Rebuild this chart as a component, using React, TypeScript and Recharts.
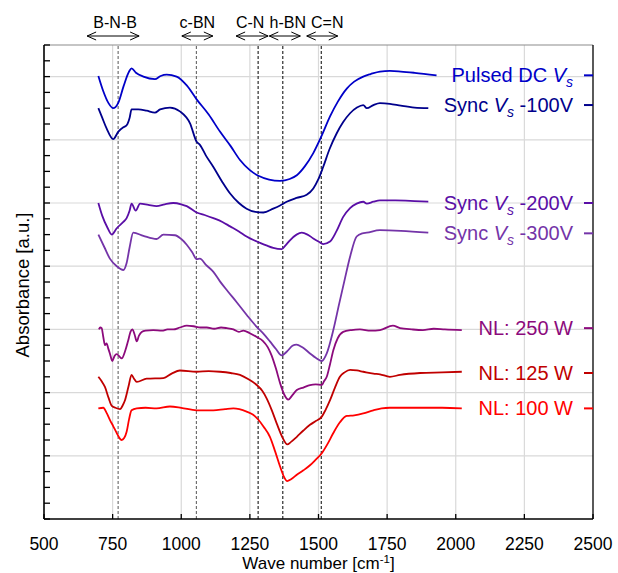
import { LineChart, Line, XAxis, YAxis, CartesianGrid, ReferenceLine } from 'recharts';

type Pt = [number, number];

// axis ticks
const xTicks = [500, 750, 1000, 1250, 1500, 1750, 2000, 2250, 2500];
const yTicks = [
  0, 0.25, 0.5, 0.75, 1, 1.25, 1.5, 1.75, 2, 2.25, 2.5, 2.75, 3, 3.25, 3.5, 3.75,
  4, 4.25, 4.5, 4.75, 5, 5.25, 5.5, 5.75, 6, 6.25, 6.5, 6.75, 7, 7.25, 7.5,
];
const yGrid = [1, 2, 3, 4, 5, 6, 7];

// spectra (wave number, offset absorbance)
const pulsedDC: Pt[] = [
  [698, 7.01], [715, 6.78], [735, 6.58], [752, 6.5], [770, 6.58], [790, 6.85], [810, 7.08],
  [819, 7.13], [835, 7.06], [862, 7.0], [904, 6.96], [925, 7.01], [947, 7.03], [983, 7.0],
  [1020, 6.86], [1056, 6.64], [1100, 6.4], [1141, 6.13], [1180, 5.9], [1214, 5.68],
  [1250, 5.52], [1281, 5.43], [1320, 5.37], [1360, 5.35], [1395, 5.38], [1421, 5.44],
  [1450, 5.58], [1481, 5.79], [1510, 6.05], [1542, 6.37], [1570, 6.6], [1603, 6.81],
  [1630, 6.92], [1663, 7.0], [1690, 7.04], [1724, 7.08], [1760, 7.09], [1800, 7.08],
  [1850, 7.06], [1930, 7.02],
];
const sync100: Pt[] = [
  [698, 6.5], [712, 6.35], [728, 6.18], [752, 6.01], [771, 6.13], [790, 6.2], [801, 6.23],
  [812, 6.35], [819, 6.48], [843, 6.48], [874, 6.46], [904, 6.43], [923, 6.48], [959, 6.51],
  [995, 6.45], [1032, 6.26], [1056, 5.97], [1068, 5.92], [1090, 5.75], [1117, 5.57],
  [1150, 5.33], [1178, 5.15], [1210, 5.0], [1238, 4.91], [1270, 4.86], [1299, 4.85],
  [1335, 4.91], [1360, 4.96], [1384, 5.02], [1420, 5.08], [1457, 5.13], [1481, 5.23],
  [1500, 5.38], [1517, 5.57], [1540, 5.85], [1566, 6.1], [1590, 6.28], [1615, 6.42],
  [1640, 6.51], [1663, 6.55], [1676, 6.5], [1700, 6.55], [1724, 6.58], [1760, 6.57],
  [1800, 6.54], [1850, 6.51], [1900, 6.5],
];
const sync200: Pt[] = [
  [698, 5.0], [712, 4.8], [730, 4.62], [747, 4.5], [765, 4.6], [789, 4.7], [801, 4.76],
  [812, 4.88], [819, 4.99], [834, 4.88], [850, 4.99], [880, 4.97], [910, 4.95], [940, 4.98],
  [971, 5.0], [1000, 4.98], [1020, 4.95], [1056, 4.85], [1085, 4.81], [1117, 4.76],
  [1150, 4.7], [1178, 4.63], [1210, 4.55], [1238, 4.47], [1265, 4.41], [1287, 4.37],
  [1310, 4.33], [1335, 4.29], [1366, 4.27], [1380, 4.33], [1396, 4.41], [1420, 4.5],
  [1439, 4.53], [1460, 4.5], [1481, 4.44], [1500, 4.39], [1517, 4.35], [1542, 4.39],
  [1565, 4.55], [1590, 4.78], [1615, 4.92], [1639, 4.99], [1663, 5.02], [1676, 4.99],
  [1700, 5.02], [1724, 5.04], [1780, 5.04], [1850, 5.03], [1900, 5.02],
];
const sync300: Pt[] = [
  [698, 4.5], [720, 4.3], [740, 4.12], [765, 4.0], [789, 3.94], [801, 4.05], [812, 4.3],
  [825, 4.53], [862, 4.48], [910, 4.43], [935, 4.5], [977, 4.49], [1000, 4.43], [1020, 4.34],
  [1040, 4.22], [1056, 4.11], [1068, 4.12], [1090, 4.02], [1117, 3.91], [1141, 3.76],
  [1170, 3.6], [1202, 3.43], [1240, 3.22], [1275, 3.04], [1300, 2.93], [1323, 2.81],
  [1345, 2.69], [1366, 2.59], [1385, 2.65], [1405, 2.74], [1420, 2.76], [1440, 2.72],
  [1469, 2.62], [1490, 2.55], [1512, 2.5], [1530, 2.62], [1554, 2.99], [1575, 3.4],
  [1596, 3.8], [1615, 4.15], [1639, 4.47], [1660, 4.52], [1676, 4.53], [1724, 4.57],
  [1800, 4.56], [1900, 4.53],
];
const nl250: Pt[] = [
  [700, 3.0], [705, 3.03], [710, 3.02], [716, 2.88], [722, 2.75], [728, 2.78], [734, 2.7],
  [740, 2.62], [749, 2.5], [757, 2.58], [765, 2.61], [775, 2.57], [783, 2.54], [795, 2.65],
  [807, 2.83], [815, 2.96], [822, 3.0], [830, 2.92], [838, 2.81], [846, 2.9], [856, 2.96],
  [870, 2.98], [898, 2.99], [930, 2.98], [950, 3.0], [971, 3.0], [995, 3.03], [1020, 3.06],
  [1045, 3.05], [1070, 3.03], [1093, 3.03], [1120, 3.01], [1145, 3.03], [1166, 3.02],
  [1190, 3.0], [1210, 2.96], [1226, 2.98], [1250, 2.94], [1275, 2.88], [1297, 2.82],
  [1315, 2.72], [1329, 2.59], [1345, 2.38], [1360, 2.15], [1375, 1.97], [1390, 1.89],
  [1405, 1.96], [1421, 2.04], [1445, 2.08], [1469, 2.12], [1490, 2.13], [1512, 2.12],
  [1520, 2.18], [1530, 2.25], [1542, 2.45], [1554, 2.67], [1570, 2.86], [1590, 2.96],
  [1620, 2.99], [1651, 3.0], [1690, 2.98], [1724, 2.99], [1771, 3.06], [1797, 3.02],
  [1840, 3.0], [1880, 2.99], [1920, 3.01], [1960, 3.0], [2022, 2.99],
];
const nl125: Pt[] = [
  [698, 2.25], [710, 2.18], [722, 2.09], [735, 1.92], [747, 1.79], [760, 1.76], [777, 1.74],
  [787, 1.8], [795, 1.88], [808, 2.1], [819, 2.28], [828, 2.22], [838, 2.17], [874, 2.22],
  [935, 2.23], [965, 2.3], [995, 2.35], [1056, 2.33], [1100, 2.34], [1141, 2.33], [1180, 2.31],
  [1214, 2.28], [1245, 2.21], [1275, 2.12], [1295, 2.03], [1311, 1.91], [1330, 1.72],
  [1348, 1.51], [1370, 1.28], [1386, 1.18], [1400, 1.22], [1421, 1.3], [1445, 1.4],
  [1469, 1.49], [1490, 1.55], [1512, 1.62], [1525, 1.72], [1542, 1.88], [1560, 2.08],
  [1578, 2.25], [1595, 2.32], [1615, 2.36], [1640, 2.35], [1663, 2.33], [1700, 2.3],
  [1724, 2.29], [1760, 2.25], [1797, 2.28], [1870, 2.31], [1950, 2.32], [2022, 2.33],
];
const nl100: Pt[] = [
  [698, 1.75], [716, 1.76], [728, 1.68], [740, 1.57], [752, 1.47], [765, 1.36], [775, 1.28],
  [783, 1.25], [792, 1.28], [801, 1.38], [810, 1.58], [819, 1.72], [838, 1.75], [870, 1.76],
  [910, 1.75], [959, 1.78], [1000, 1.76], [1056, 1.72], [1117, 1.72], [1160, 1.74],
  [1190, 1.75], [1238, 1.7], [1262, 1.65], [1281, 1.57], [1300, 1.46], [1323, 1.3],
  [1342, 1.07], [1360, 0.83], [1375, 0.66], [1386, 0.6], [1400, 0.63], [1421, 0.7],
  [1445, 0.77], [1469, 0.85], [1490, 0.94], [1512, 1.04], [1532, 1.18], [1554, 1.36],
  [1578, 1.53], [1603, 1.63], [1630, 1.64], [1663, 1.67], [1700, 1.72], [1730, 1.75],
  [1760, 1.76], [1870, 1.76], [1950, 1.76], [2022, 1.75],
];

// right-hand labels: level of the tick on the right axis
const labelLevels = [7.02, 6.55, 5.0, 4.52, 3.02, 2.31, 1.75];

// peak assignments
const peakPos = [770, 1055, 1280, 1370, 1510];
const peakNames = ['B-N-B', 'c-BN', 'C-N', 'h-BN', 'C=N'];

const series = [
  { key: 'pdc', pts: pulsedDC, color: '#0000c8', pre: 'Pulsed DC ', vs: true, post: '' },
  { key: 's100', pts: sync100, color: '#00008c', pre: 'Sync ', vs: true, post: ' -100V' },
  { key: 's200', pts: sync200, color: '#5a0ea6', pre: 'Sync ', vs: true, post: ' -200V' },
  { key: 's300', pts: sync300, color: '#7434a8', pre: 'Sync ', vs: true, post: ' -300V' },
  { key: 'n250', pts: nl250, color: '#8c0a7c', pre: 'NL: 250 W', vs: false, post: '' },
  { key: 'n125', pts: nl125, color: '#c00000', pre: 'NL: 125 W', vs: false, post: '' },
  { key: 'n100', pts: nl100, color: '#ff0000', pre: 'NL: 100 W', vs: false, post: '' },
];

// arrow look per peak (pixels)
const peakStyle = [
  { half: 26, dx: -5, tdx: -3, stroke: '#555' },
  { half: 15.5, dx: 1, tdx: 1, stroke: '#555' },
  { half: 16, dx: -6, tdx: -8, stroke: '#000' },
  { half: 15.5, dx: 2, tdx: 5, stroke: '#000' },
  { half: 15.5, dx: 1, tdx: 6, stroke: '#000' },
];

const FONT = '"Liberation Sans", Arial, sans-serif';

const LeftTick = ({ x, y }: any) => (
  <line x1={x} x2={x + 6} y1={y} y2={y} stroke="#000" strokeWidth={1.3} />
);

const BottomTick = ({ x, y, payload }: any) => (
  <g>
    <line x1={x} x2={x} y1={y} y2={y - 5} stroke="#000" strokeWidth={1.3} />
    <text x={x} y={y + 30.5} textAnchor="middle" fontSize={17.5} fill="#000" fontFamily={FONT}>
      {payload.value}
    </text>
  </g>
);

const RightTick = ({ x, y, payload }: any) => {
  const s = series[labelLevels.indexOf(payload.value)];
  if (!s) return null;
  return (
    <g>
      <line x1={x - 9} x2={x} y1={y} y2={y} stroke={s.color} strokeWidth={2} />
      <text x={x - 20} y={y + 7} textAnchor="end" fontSize={20} fill={s.color} fontFamily={FONT}>
        <tspan>{s.pre}</tspan>
        {s.vs && <tspan fontStyle="italic">V</tspan>}
        {s.vs && (
          <tspan fontStyle="italic" fontSize={14} dy={5}>
            s
          </tspan>
        )}
        {s.post && <tspan dy={s.vs ? -5 : 0}>{s.post}</tspan>}
      </text>
    </g>
  );
};

const PeakMark = ({ viewBox, name, st }: any) => {
  if (!viewBox) return null;
  const cx = viewBox.x + st.dx;
  const ay = viewBox.y - 9;
  const l = cx - st.half;
  const r = cx + st.half;
  return (
    <g>
      <text x={viewBox.x + st.tdx} y={viewBox.y - 17} textAnchor="middle" fontSize={16} fill="#000" fontFamily={FONT}>
        {name}
      </text>
      <line x1={l} x2={r} y1={ay} y2={ay} stroke="#000" strokeWidth={1} />
      <polyline points={`${l + 9},${ay - 4} ${l},${ay} ${l + 9},${ay + 4}`} fill="none" stroke="#000" strokeWidth={1} />
      <polyline points={`${r - 9},${ay - 4} ${r},${ay} ${r - 9},${ay + 4}`} fill="none" stroke="#000" strokeWidth={1} />
    </g>
  );
};

const XTitle = ({ viewBox }: any) => (
  <text x={viewBox.x + viewBox.width / 2} y={viewBox.y + viewBox.height - 4} textAnchor="middle" fontSize={17} fill="#000" fontFamily={FONT}>
    <tspan>Wave number [cm</tspan>
    <tspan fontSize={11.5} dy={-6}>-1</tspan>
    <tspan dy={6}>]</tspan>
  </text>
);

const YTitle = ({ viewBox }: any) => {
  const x = viewBox.x + 22;
  const y = viewBox.y + viewBox.height / 2 + 3;
  return (
    <text x={x} y={y} transform={`rotate(-90 ${x} ${y})`} textAnchor="middle" dominantBaseline="central" fontSize={18.5} fill="#000" fontFamily={FONT}>
      Absorbance [a.u.]
    </text>
  );
};

export default function App() {
  return (
    <div style={{ position: 'absolute', left: 0, top: 0, width: 618, height: 573, background: '#fff', fontFamily: FONT }}>
      <LineChart width={618} height={573} margin={{ top: 45, right: 0, bottom: 0, left: 0 }}>
        <CartesianGrid
          yAxisId="left"
          stroke="#d9d9d9"
          strokeWidth={1.2}
          horizontalValues={yGrid}
          verticalValues={xTicks.slice(1, -1)}
        />
        <XAxis
          type="number"
          dataKey="x"
          domain={[500, 2500]}
          ticks={xTicks}
          interval={0}
          height={54}
          tickSize={0}
          tickMargin={0}
          tickLine={false}
          tick={<BottomTick />}
          axisLine={{ stroke: '#000', strokeWidth: 1.6 }}
          allowDataOverflow
          label={<XTitle />}
        />
        <YAxis
          yAxisId="left"
          type="number"
          domain={[0, 7.5]}
          ticks={yTicks}
          interval={0}
          width={44}
          tickSize={0}
          tickMargin={0}
          tickLine={false}
          tick={<LeftTick />}
          axisLine={{ stroke: '#000', strokeWidth: 1.6 }}
          allowDataOverflow
          label={<YTitle />}
        />
        <YAxis
          yAxisId="right"
          orientation="right"
          type="number"
          domain={[0, 7.5]}
          ticks={labelLevels}
          interval={0}
          width={25}
          tickSize={0}
          tickMargin={0}
          tickLine={false}
          tick={<RightTick />}
          axisLine={{ stroke: '#000', strokeWidth: 1.3 }}
          allowDataOverflow
        />
        <ReferenceLine yAxisId="left" y={7.5} stroke="#8c8c8c" strokeWidth={1.2} />
        {peakPos.map((p, i) => (
          <ReferenceLine
            key={peakNames[i]}
            yAxisId="left"
            x={p}
            stroke={peakStyle[i].stroke}
            strokeWidth={1}
            strokeDasharray="3 2"
            label={<PeakMark name={peakNames[i]} st={peakStyle[i]} />}
          />
        ))}
        {series.map((s) => (
          <Line
            key={s.key}
            yAxisId="left"
            data={s.pts.map(([x, y]) => ({ x, y }))}
            dataKey="y"
            type="monotone"
            stroke={s.color}
            strokeWidth={1.8}
            dot={false}
            activeDot={false}
            isAnimationActive={false}
          />
        ))}
      </LineChart>
    </div>
  );
}
